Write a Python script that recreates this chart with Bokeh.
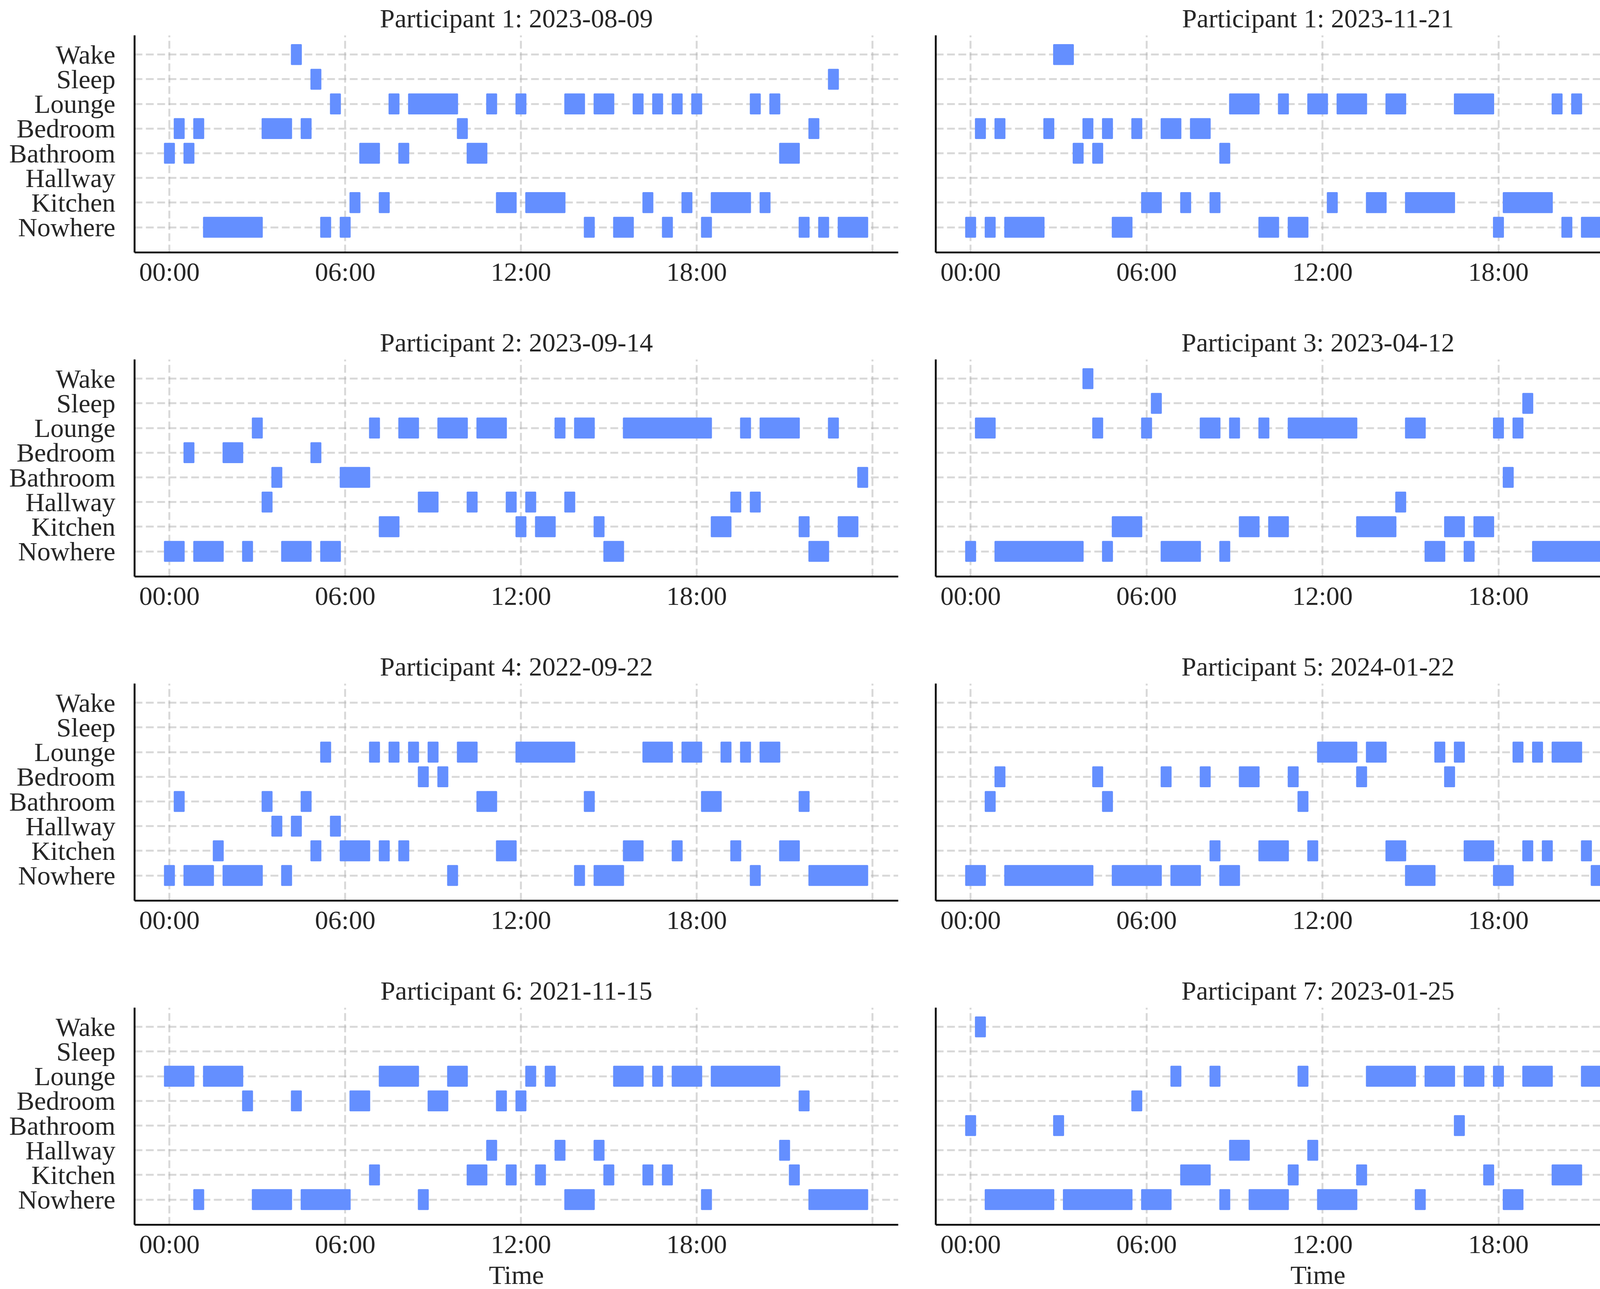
from bokeh.plotting import figure
from bokeh.layouts import gridplot
from bokeh.models import Range1d, FixedTicker, ColumnDataSource
from bokeh.embed import file_html
from bokeh.resources import INLINE

# ---------------- data ----------------
ROOMS = ["Nowhere", "Kitchen", "Hallway", "Bathroom", "Bedroom", "Lounge", "Sleep", "Wake"]
HOUR_TICKS = [0, 6, 12, 18]
HOUR_LABELS = ["00:00", "06:00", "12:00", "18:00"]
GRID_HOURS = [0, 6, 12, 18, 24]
SLOT_MINUTES = 20  # each observation covers a 20-minute slot centred on its time
X_LABEL = "Time"

TITLES = [
    "Participant 1: 2023-08-09",
    "Participant 1: 2023-11-21",
    "Participant 2: 2023-09-14",
    "Participant 3: 2023-04-12",
    "Participant 4: 2022-09-22",
    "Participant 5: 2024-01-22",
    "Participant 6: 2021-11-15",
    "Participant 7: 2023-01-25",
]

# runs: (room, first observation, last observation)
P1_RUNS = [
    ("Wake", "04:20", "04:20"),
    ("Sleep", "05:00", "05:00"), ("Sleep", "22:40", "22:40"),
    ("Lounge", "05:40", "05:40"), ("Lounge", "07:40", "07:40"), ("Lounge", "08:20", "09:40"),
    ("Lounge", "11:00", "11:00"), ("Lounge", "12:00", "12:00"), ("Lounge", "13:40", "14:00"),
    ("Lounge", "14:40", "15:00"), ("Lounge", "16:00", "16:00"), ("Lounge", "16:40", "16:40"),
    ("Lounge", "17:20", "17:20"), ("Lounge", "18:00", "18:00"), ("Lounge", "20:00", "20:00"),
    ("Lounge", "20:40", "20:40"),
    ("Bedroom", "00:20", "00:20"), ("Bedroom", "01:00", "01:00"), ("Bedroom", "03:20", "04:00"),
    ("Bedroom", "04:40", "04:40"), ("Bedroom", "10:00", "10:00"), ("Bedroom", "22:00", "22:00"),
    ("Bathroom", "00:00", "00:00"), ("Bathroom", "00:40", "00:40"), ("Bathroom", "06:40", "07:00"),
    ("Bathroom", "08:00", "08:00"), ("Bathroom", "10:20", "10:40"), ("Bathroom", "21:00", "21:20"),
    ("Kitchen", "06:20", "06:20"), ("Kitchen", "07:20", "07:20"), ("Kitchen", "11:20", "11:40"),
    ("Kitchen", "12:20", "13:20"), ("Kitchen", "16:20", "16:20"), ("Kitchen", "17:40", "17:40"),
    ("Kitchen", "18:40", "19:40"), ("Kitchen", "20:20", "20:20"),
    ("Nowhere", "01:20", "03:00"), ("Nowhere", "05:20", "05:20"), ("Nowhere", "06:00", "06:00"),
    ("Nowhere", "14:20", "14:20"), ("Nowhere", "15:20", "15:40"), ("Nowhere", "17:00", "17:00"),
    ("Nowhere", "18:20", "18:20"), ("Nowhere", "21:40", "21:40"), ("Nowhere", "22:20", "22:20"),
    ("Nowhere", "23:00", "23:40"),
]

P2_RUNS = [
    ("Wake", "03:00", "03:20"),
    ("Lounge", "09:00", "09:40"), ("Lounge", "10:40", "10:40"), ("Lounge", "11:40", "12:00"),
    ("Lounge", "12:40", "13:20"), ("Lounge", "14:20", "14:40"), ("Lounge", "16:40", "17:40"),
    ("Lounge", "20:00", "20:00"), ("Lounge", "20:40", "20:40"), ("Lounge", "21:40", "22:00"),
    ("Bedroom", "00:20", "00:20"), ("Bedroom", "01:00", "01:00"), ("Bedroom", "02:40", "02:40"),
    ("Bedroom", "04:00", "04:00"), ("Bedroom", "04:40", "04:40"), ("Bedroom", "05:40", "05:40"),
    ("Bedroom", "06:40", "07:00"), ("Bedroom", "07:40", "08:00"), ("Bedroom", "22:40", "22:40"),
    ("Bathroom", "03:40", "03:40"), ("Bathroom", "04:20", "04:20"), ("Bathroom", "08:40", "08:40"),
    ("Bathroom", "22:20", "22:20"),
    ("Kitchen", "06:00", "06:20"), ("Kitchen", "07:20", "07:20"), ("Kitchen", "08:20", "08:20"),
    ("Kitchen", "12:20", "12:20"), ("Kitchen", "13:40", "14:00"), ("Kitchen", "15:00", "16:20"),
    ("Kitchen", "18:20", "19:40"),
    ("Nowhere", "00:00", "00:00"), ("Nowhere", "00:40", "00:40"), ("Nowhere", "01:20", "02:20"),
    ("Nowhere", "05:00", "05:20"), ("Nowhere", "10:00", "10:20"), ("Nowhere", "11:00", "11:20"),
    ("Nowhere", "18:00", "18:00"), ("Nowhere", "20:20", "20:20"), ("Nowhere", "21:00", "21:20"),
    ("Nowhere", "23:00", "23:40"),
]

P3_RUNS = [
    ("Lounge", "03:00", "03:00"), ("Lounge", "07:00", "07:00"), ("Lounge", "08:00", "08:20"),
    ("Lounge", "09:20", "10:00"), ("Lounge", "10:40", "11:20"), ("Lounge", "13:20", "13:20"),
    ("Lounge", "14:00", "14:20"), ("Lounge", "15:40", "18:20"), ("Lounge", "19:40", "19:40"),
    ("Lounge", "20:20", "21:20"), ("Lounge", "22:40", "22:40"),
    ("Bedroom", "00:40", "00:40"), ("Bedroom", "02:00", "02:20"), ("Bedroom", "05:00", "05:00"),
    ("Bathroom", "03:40", "03:40"), ("Bathroom", "06:00", "06:40"), ("Bathroom", "23:40", "23:40"),
    ("Hallway", "03:20", "03:20"), ("Hallway", "08:40", "09:00"), ("Hallway", "10:20", "10:20"),
    ("Hallway", "11:40", "11:40"), ("Hallway", "12:20", "12:20"), ("Hallway", "13:40", "13:40"),
    ("Hallway", "19:20", "19:20"), ("Hallway", "20:00", "20:00"),
    ("Kitchen", "07:20", "07:40"), ("Kitchen", "12:00", "12:00"), ("Kitchen", "12:40", "13:00"),
    ("Kitchen", "14:40", "14:40"), ("Kitchen", "18:40", "19:00"), ("Kitchen", "21:40", "21:40"),
    ("Kitchen", "23:00", "23:20"),
    ("Nowhere", "00:00", "00:20"), ("Nowhere", "01:00", "01:40"), ("Nowhere", "02:40", "02:40"),
    ("Nowhere", "04:00", "04:40"), ("Nowhere", "05:20", "05:40"), ("Nowhere", "15:00", "15:20"),
    ("Nowhere", "22:00", "22:20"),
]

P4_RUNS = [
    ("Wake", "04:00", "04:00"),
    ("Sleep", "06:20", "06:20"), ("Sleep", "19:00", "19:00"),
    ("Lounge", "00:20", "00:40"), ("Lounge", "04:20", "04:20"), ("Lounge", "06:00", "06:00"),
    ("Lounge", "08:00", "08:20"), ("Lounge", "09:00", "09:00"), ("Lounge", "10:00", "10:00"),
    ("Lounge", "11:00", "13:00"), ("Lounge", "15:00", "15:20"), ("Lounge", "18:00", "18:00"),
    ("Lounge", "18:40", "18:40"), ("Lounge", "22:40", "22:40"),
    ("Bathroom", "18:20", "18:20"),
    ("Hallway", "14:40", "14:40"),
    ("Kitchen", "05:00", "05:40"), ("Kitchen", "09:20", "09:40"), ("Kitchen", "10:20", "10:40"),
    ("Kitchen", "13:20", "14:20"), ("Kitchen", "16:20", "16:40"), ("Kitchen", "17:20", "17:40"),
    ("Nowhere", "00:00", "00:00"), ("Nowhere", "01:00", "03:40"), ("Nowhere", "04:40", "04:40"),
    ("Nowhere", "06:40", "07:40"), ("Nowhere", "08:40", "08:40"), ("Nowhere", "15:40", "16:00"),
    ("Nowhere", "17:00", "17:00"), ("Nowhere", "19:20", "22:20"), ("Nowhere", "23:00", "23:40"),
]

P5_RUNS = [
    ("Lounge", "05:20", "05:20"), ("Lounge", "07:00", "07:00"), ("Lounge", "07:40", "07:40"),
    ("Lounge", "08:20", "08:20"), ("Lounge", "09:00", "09:00"), ("Lounge", "10:00", "10:20"),
    ("Lounge", "12:00", "13:40"), ("Lounge", "16:20", "17:00"), ("Lounge", "17:40", "18:00"),
    ("Lounge", "19:00", "19:00"), ("Lounge", "19:40", "19:40"), ("Lounge", "20:20", "20:40"),
    ("Bedroom", "08:40", "08:40"), ("Bedroom", "09:20", "09:20"),
    ("Bathroom", "00:20", "00:20"), ("Bathroom", "03:20", "03:20"), ("Bathroom", "04:40", "04:40"),
    ("Bathroom", "10:40", "11:00"), ("Bathroom", "14:20", "14:20"), ("Bathroom", "18:20", "18:40"),
    ("Bathroom", "21:40", "21:40"),
    ("Hallway", "03:40", "03:40"), ("Hallway", "04:20", "04:20"), ("Hallway", "05:40", "05:40"),
    ("Kitchen", "01:40", "01:40"), ("Kitchen", "05:00", "05:00"), ("Kitchen", "06:00", "06:40"),
    ("Kitchen", "07:20", "07:20"), ("Kitchen", "08:00", "08:00"), ("Kitchen", "11:20", "11:40"),
    ("Kitchen", "15:40", "16:00"), ("Kitchen", "17:20", "17:20"), ("Kitchen", "19:20", "19:20"),
    ("Kitchen", "21:00", "21:20"),
    ("Nowhere", "00:00", "00:00"), ("Nowhere", "00:40", "01:20"), ("Nowhere", "02:00", "03:00"),
    ("Nowhere", "04:00", "04:00"), ("Nowhere", "09:40", "09:40"), ("Nowhere", "14:00", "14:00"),
    ("Nowhere", "14:40", "15:20"), ("Nowhere", "20:00", "20:00"), ("Nowhere", "22:00", "23:40"),
]

P6_RUNS = [
    ("Lounge", "12:00", "13:00"), ("Lounge", "13:40", "14:00"), ("Lounge", "16:00", "16:00"),
    ("Lounge", "16:40", "16:40"), ("Lounge", "18:40", "18:40"), ("Lounge", "19:20", "19:20"),
    ("Lounge", "20:00", "20:40"),
    ("Bedroom", "01:00", "01:00"), ("Bedroom", "04:20", "04:20"), ("Bedroom", "06:40", "06:40"),
    ("Bedroom", "08:00", "08:00"), ("Bedroom", "09:20", "09:40"), ("Bedroom", "11:00", "11:00"),
    ("Bedroom", "13:20", "13:20"), ("Bedroom", "16:20", "16:20"),
    ("Bathroom", "00:40", "00:40"), ("Bathroom", "04:40", "04:40"), ("Bathroom", "11:20", "11:20"),
    ("Kitchen", "08:20", "08:20"), ("Kitchen", "10:00", "10:40"), ("Kitchen", "11:40", "11:40"),
    ("Kitchen", "14:20", "14:40"), ("Kitchen", "17:00", "17:40"), ("Kitchen", "19:00", "19:00"),
    ("Kitchen", "19:40", "19:40"), ("Kitchen", "21:00", "21:00"), ("Kitchen", "22:40", "23:00"),
    ("Nowhere", "00:00", "00:20"), ("Nowhere", "01:20", "04:00"), ("Nowhere", "05:00", "06:20"),
    ("Nowhere", "07:00", "07:40"), ("Nowhere", "08:40", "09:00"), ("Nowhere", "15:00", "15:40"),
    ("Nowhere", "18:00", "18:20"), ("Nowhere", "21:20", "22:20"), ("Nowhere", "23:20", "23:40"),
]

P7_RUNS = [
    ("Lounge", "00:00", "00:40"), ("Lounge", "01:20", "02:20"), ("Lounge", "07:20", "08:20"),
    ("Lounge", "09:40", "10:00"), ("Lounge", "12:20", "12:20"), ("Lounge", "13:00", "13:00"),
    ("Lounge", "15:20", "16:00"), ("Lounge", "16:40", "16:40"), ("Lounge", "17:20", "18:00"),
    ("Lounge", "18:40", "20:40"),
    ("Bedroom", "02:40", "02:40"), ("Bedroom", "04:20", "04:20"), ("Bedroom", "06:20", "06:40"),
    ("Bedroom", "09:00", "09:20"), ("Bedroom", "11:20", "11:20"), ("Bedroom", "12:00", "12:00"),
    ("Bedroom", "21:40", "21:40"),
    ("Hallway", "11:00", "11:00"), ("Hallway", "13:20", "13:20"), ("Hallway", "14:40", "14:40"),
    ("Hallway", "21:00", "21:00"),
    ("Kitchen", "07:00", "07:00"), ("Kitchen", "10:20", "10:40"), ("Kitchen", "11:40", "11:40"),
    ("Kitchen", "12:40", "12:40"), ("Kitchen", "15:00", "15:00"), ("Kitchen", "16:20", "16:20"),
    ("Kitchen", "17:00", "17:00"), ("Kitchen", "21:20", "21:20"),
    ("Nowhere", "01:00", "01:00"), ("Nowhere", "03:00", "04:00"), ("Nowhere", "04:40", "06:00"),
    ("Nowhere", "08:40", "08:40"), ("Nowhere", "13:40", "14:20"), ("Nowhere", "18:20", "18:20"),
    ("Nowhere", "22:00", "23:40"),
]

P8_RUNS = [
    ("Wake", "00:20", "00:20"),
    ("Lounge", "07:00", "07:00"), ("Lounge", "08:20", "08:20"), ("Lounge", "11:20", "11:20"),
    ("Lounge", "13:40", "15:00"), ("Lounge", "15:40", "16:20"), ("Lounge", "17:00", "17:20"),
    ("Lounge", "18:00", "18:00"), ("Lounge", "19:00", "19:40"), ("Lounge", "21:00", "21:40"),
    ("Lounge", "22:20", "23:00"), ("Lounge", "23:40", "23:40"),
    ("Bedroom", "05:40", "05:40"),
    ("Bathroom", "00:00", "00:00"), ("Bathroom", "03:00", "03:00"), ("Bathroom", "16:40", "16:40"),
    ("Bathroom", "23:20", "23:20"),
    ("Hallway", "09:00", "09:20"), ("Hallway", "11:40", "11:40"),
    ("Kitchen", "07:20", "08:00"), ("Kitchen", "11:00", "11:00"), ("Kitchen", "13:20", "13:20"),
    ("Kitchen", "17:40", "17:40"), ("Kitchen", "20:00", "20:40"),
    ("Nowhere", "00:40", "02:40"), ("Nowhere", "03:20", "05:20"), ("Nowhere", "06:00", "06:40"),
    ("Nowhere", "08:40", "08:40"), ("Nowhere", "09:40", "10:40"), ("Nowhere", "12:00", "13:00"),
    ("Nowhere", "15:20", "15:20"), ("Nowhere", "18:20", "18:40"), ("Nowhere", "22:00", "22:00"),
]

PANELS = [P1_RUNS, P2_RUNS, P3_RUNS, P4_RUNS, P5_RUNS, P6_RUNS, P7_RUNS, P8_RUNS]

# ---------------- style ----------------
FONT = "Liberation Serif"
FS = "68px"
TXT = "#262626"
BAR = "#648FFF"
GRID = "#b3b3b3"


def to_hours(s):
    h, m = s.split(":")
    return int(h) + int(m) / 60.0


def make_panel(i, runs, title):
    col, row = i % 2, i // 2
    last_row = row == 3
    half = SLOT_MINUTES / 2 / 60.0
    src = ColumnDataSource(dict(
        y=[ROOMS.index(r[0]) for r in runs],
        left=[to_hours(r[1]) - half for r in runs],
        right=[to_hours(r[2]) + half for r in runs],
    ))
    p = figure(
        frame_width=1955 if col == 0 else 1957, frame_height=556,
        x_range=Range1d(-1.19, 24.88), y_range=Range1d(-1.02, 7.78),
        min_border_left=344 if col == 0 else 48,
        min_border_right=48 if col == 0 else 20,
        min_border_top=88, min_border_bottom=157 if last_row else 184,
        output_backend="svg", toolbar_location=None, title=title,
    )
    p.outline_line_color = None
    p.background_fill_color = "white"
    p.border_fill_color = "white"

    p.title.text_font = FONT
    p.title.text_font_size = FS
    p.title.text_font_style = "normal"
    p.title.text_color = TXT
    p.title.align = "center"
    p.title.standoff = 12

    for ax in (p.xaxis[0], p.yaxis[0]):
        ax.axis_line_width = 4.7
        ax.axis_line_color = "black"
        ax.major_tick_line_color = None
        ax.minor_tick_line_color = None
        ax.major_tick_out = 0
        ax.major_tick_in = 0
        ax.minor_tick_out = 0
        ax.minor_tick_in = 0
        ax.major_label_text_font = FONT
        ax.major_label_text_font_size = FS
        ax.major_label_text_color = TXT

    p.xaxis.ticker = FixedTicker(ticks=HOUR_TICKS)
    p.xaxis.major_label_overrides = {t: lab for t, lab in zip(HOUR_TICKS, HOUR_LABELS)}
    p.xaxis.major_label_standoff = 11
    if last_row:
        p.xaxis.axis_label = X_LABEL
        p.xaxis.axis_label_text_font = FONT
        p.xaxis.axis_label_text_font_size = FS
        p.xaxis.axis_label_text_font_style = "normal"
        p.xaxis.axis_label_text_color = TXT
        p.xaxis.axis_label_standoff = 0

    if col == 0:
        p.yaxis.ticker = FixedTicker(ticks=list(range(len(ROOMS))))
        p.yaxis.major_label_overrides = {k: r for k, r in enumerate(ROOMS)}
        p.yaxis.major_label_standoff = 49
    else:
        p.yaxis.ticker = FixedTicker(ticks=[])

    p.xgrid.ticker = FixedTicker(ticks=GRID_HOURS)
    p.ygrid.ticker = FixedTicker(ticks=list(range(len(ROOMS))))
    for g in (p.xgrid[0], p.ygrid[0]):
        g.grid_line_color = GRID
        g.grid_line_alpha = 0.5
        g.grid_line_width = 5
        g.grid_line_dash = "20 9"

    p.hbar(y="y", left="left", right="right", height=0.8, source=src,
           fill_color=BAR, line_color=BAR, line_width=3)
    return p


figs = [make_panel(i, runs, TITLES[i]) for i, runs in enumerate(PANELS)]
grid = gridplot([figs[0:2], figs[2:4], figs[4:6], figs[6:8]], toolbar_location=None)

open("out.html", "w").write(file_html(grid, INLINE))
